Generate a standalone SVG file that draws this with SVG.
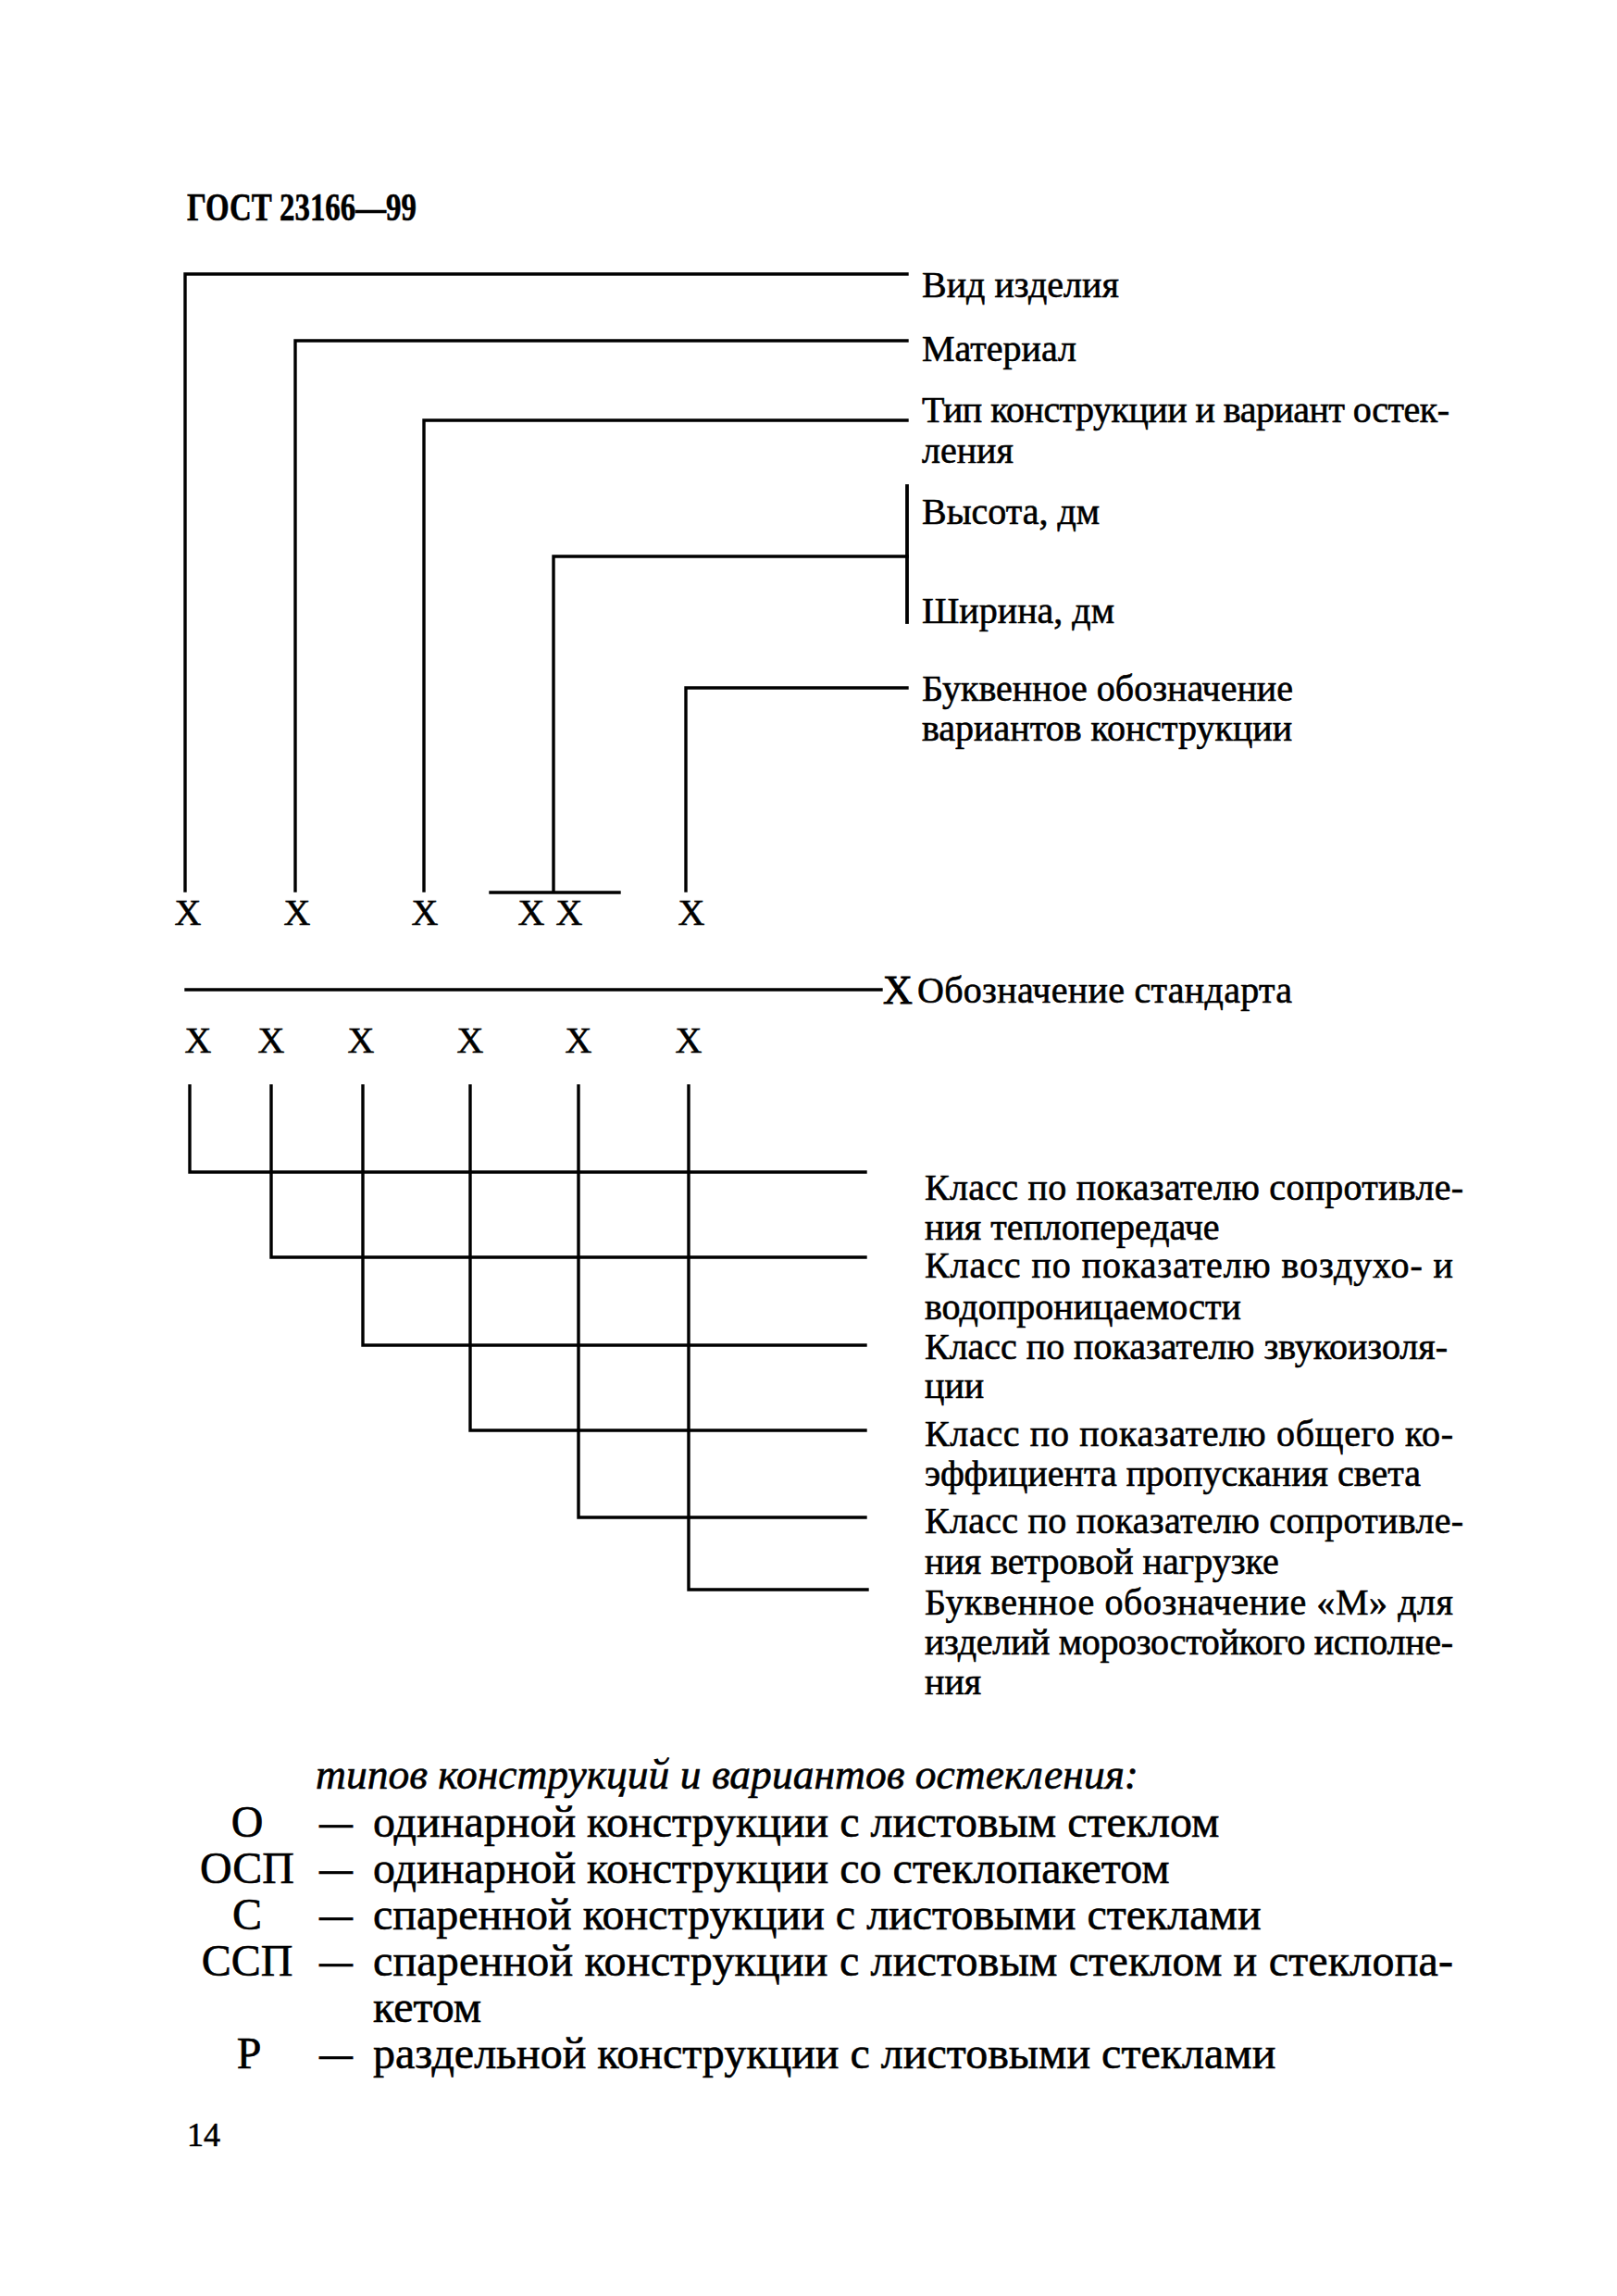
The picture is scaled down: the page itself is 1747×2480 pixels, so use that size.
<svg xmlns="http://www.w3.org/2000/svg" width="1747" height="2480" viewBox="0 0 1747 2480">
<style>
text{font-family:"Liberation Serif","Times New Roman",serif;fill:#000;stroke:#000;stroke-width:0.6}
.t{font-size:40px}
.x{font-size:40px;text-anchor:middle}
.l{font-size:48px}
.c{font-size:48px;text-anchor:middle}
.h{font-size:42px;font-weight:bold}
.i{font-size:46px;font-style:italic}
.ln{fill:none;stroke:#000;stroke-width:3.4;stroke-linecap:square}
</style>
<rect width="1747" height="2480" fill="#fff"/>
<g id="title"><text class="h" x="202" y="238" textLength="248" lengthAdjust="spacingAndGlyphs">ГОСТ 23166—99</text></g>

<g id="connectors">
<path class="ln" d="M200,962 V296 H980"/>
<path class="ln" d="M319,962 V368 H980"/>
<path class="ln" d="M458,962 V454 H980"/>
<path class="ln" d="M598,962 V601 H980"/>
<path class="ln" d="M980,525 V672" style="stroke-width:3.8"/>
<path class="ln" d="M741,962 V743 H980"/>
<path class="ln" d="M530,964 H669"/>
<path class="ln" d="M201,1069 H952"/>
<path class="ln" d="M205,1173 V1266 H935"/>
<path class="ln" d="M293,1173 V1358 H935"/>
<path class="ln" d="M392,1173 V1453 H935"/>
<path class="ln" d="M508,1173 V1545 H935"/>
<path class="ln" d="M625,1173 V1639 H935"/>
<path class="ln" d="M744,1173 V1717 H937"/>
</g>

<g id="top-x">
<text class="x" x="203" y="999">X</text>
<text class="x" x="321" y="999">X</text>
<text class="x" x="459" y="999">X</text>
<text class="x" x="574" y="999">X</text>
<text class="x" x="615" y="999">X</text>
<text class="x" x="747" y="999">X</text>
</g>

<g id="label-vid"><text class="t" x="996" y="321">Вид изделия</text></g>
<g id="label-material"><text class="t" x="996" y="390">Материал</text></g>
<g id="label-tip"><text class="t" x="996" y="456" textLength="570" lengthAdjust="spacing">Тип конструкции и вариант остек-</text><text class="t" x="996" y="500">ления</text></g>
<g id="label-height"><text class="t" x="996" y="566">Высота,  дм</text></g>
<g id="label-width"><text class="t" x="996" y="673">Ширина,  дм</text></g>
<g id="label-letter"><text class="t" x="996" y="757">Буквенное обозначение</text><text class="t" x="996" y="800">вариантов конструкции</text></g>

<g id="label-standard"><text class="x" x="970" y="1084" style="font-size:44px;stroke-width:1">X</text><text class="t" x="991" y="1083" textLength="405" lengthAdjust="spacing">Обозначение стандарта</text></g>

<g id="bottom-x">
<text class="x" x="214" y="1137">X</text>
<text class="x" x="293" y="1137">X</text>
<text class="x" x="390" y="1137">X</text>
<text class="x" x="508" y="1137">X</text>
<text class="x" x="625" y="1137">X</text>
<text class="x" x="744" y="1137">X</text>
</g>

<g id="label-heat"><text class="t" x="999" y="1296" textLength="582" lengthAdjust="spacing">Класс по показателю сопротивле-</text><text class="t" x="999" y="1339">ния теплопередаче</text></g>
<g id="label-air"><text class="t" x="999" y="1380" textLength="571" lengthAdjust="spacing">Класс по показателю воздухо- и</text><text class="t" x="999" y="1425">водопроницаемости</text></g>
<g id="label-sound"><text class="t" x="999" y="1468" textLength="565" lengthAdjust="spacing">Класс по показателю звукоизоля-</text><text class="t" x="999" y="1510">ции</text></g>
<g id="label-light"><text class="t" x="999" y="1562" textLength="571" lengthAdjust="spacing">Класс по показателю общего ко-</text><text class="t" x="999" y="1605">эффициента пропускания света</text></g>
<g id="label-wind"><text class="t" x="999" y="1656" textLength="582" lengthAdjust="spacing">Класс по показателю сопротивле-</text><text class="t" x="999" y="1700">ния ветровой нагрузке</text></g>
<g id="label-frost"><text class="t" x="999" y="1744" textLength="571" lengthAdjust="spacing">Буквенное обозначение «М» для</text><text class="t" x="999" y="1787" textLength="571" lengthAdjust="spacing">изделий морозостойкого исполне-</text><text class="t" x="999" y="1830">ния</text></g>

<g id="legend">
<text class="i" x="341" y="1932" textLength="889" lengthAdjust="spacingAndGlyphs">типов конструкций и вариантов остекления:</text>
<text class="c" x="267" y="1984">О</text><text class="l" x="345" y="1984" textLength="36" lengthAdjust="spacingAndGlyphs">—</text><text class="l" x="403" y="1984">одинарной конструкции с листовым стеклом</text>
<text class="c" x="267" y="2034">ОСП</text><text class="l" x="345" y="2034" textLength="36" lengthAdjust="spacingAndGlyphs">—</text><text class="l" x="403" y="2034">одинарной конструкции со стеклопакетом</text>
<text class="c" x="267" y="2084">С</text><text class="l" x="345" y="2084" textLength="36" lengthAdjust="spacingAndGlyphs">—</text><text class="l" x="403" y="2084">спаренной конструкции с листовыми стеклами</text>
<text class="c" x="267" y="2134">ССП</text><text class="l" x="345" y="2134" textLength="36" lengthAdjust="spacingAndGlyphs">—</text><text class="l" x="403" y="2134" textLength="1167" lengthAdjust="spacing">спаренной конструкции с листовым стеклом и стеклопа-</text>
<text class="l" x="403" y="2184">кетом</text>
<text class="c" x="269" y="2234">Р</text><text class="l" x="345" y="2234" textLength="36" lengthAdjust="spacingAndGlyphs">—</text><text class="l" x="403" y="2234">раздельной конструкции с листовыми стеклами</text>
</g>

<g id="page-number"><text style="font-size:36px" x="202" y="2318">14</text></g>
</svg>
